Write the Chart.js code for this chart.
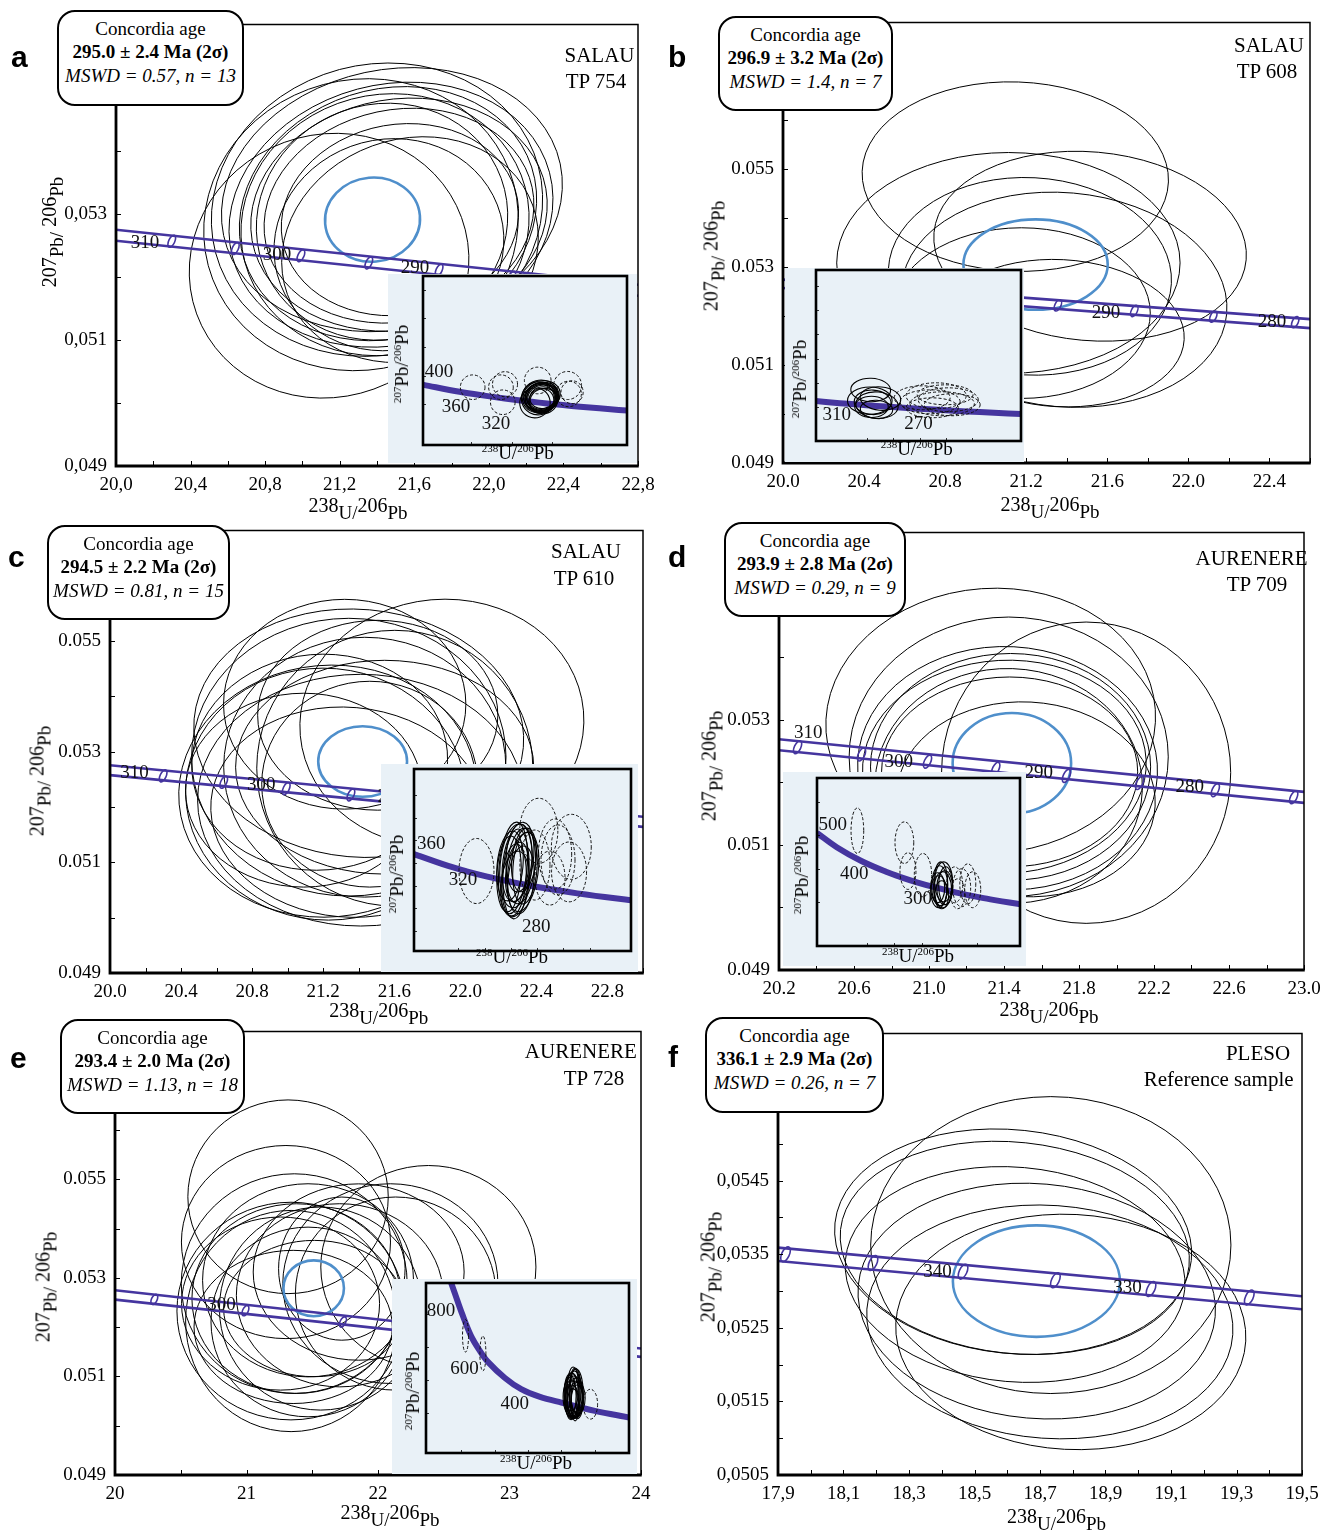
<!DOCTYPE html>
<html><head><meta charset="utf-8">
<script src="https://cdn.jsdelivr.net/npm/chart.js@4.4.1/dist/chart.umd.min.js"></script>
<style>
html,body{margin:0;padding:0;background:#fff;}
#root{position:relative;width:1336px;height:1530px;overflow:hidden;background:#fff;font-family:'Liberation Serif','Times New Roman',serif;color:#000;}
canvas{position:absolute;}
.box{position:absolute;box-sizing:border-box;border:2px solid #000;border-radius:18px;background:#fff;text-align:center;font-size:19px;line-height:23.3px;padding-top:5px;z-index:10;white-space:nowrap;}
.box .b{font-weight:bold}
.box .i{font-style:italic}
.lt{position:absolute;font-family:'Liberation Sans',Arial,sans-serif;font-weight:bold;font-size:30px;line-height:30px;z-index:10}
.nm{position:absolute;font-size:21px;line-height:21px;transform:translateX(-50%);white-space:nowrap;z-index:10}
.at{position:absolute;white-space:nowrap;font-size:20px;line-height:20px;z-index:10}
.at .lo{position:relative;top:7px;font-size:19px}
.it{position:absolute;white-space:nowrap;font-size:19px;line-height:19px;z-index:12}
.it .sp{position:relative;top:-7px;font-size:11px}
</style></head>
<body><div id="root"></div>
<script>
// ================= DATA =================
// ---- Panel a (SALAU TP 754) ----
const A_boxText = ['Concordia age', '295.0 ± 2.4 Ma (2σ)', 'MSWD = 0.57, n = 13'];
const A_names = ['SALAU', 'TP 754'];
const A_xTickLabels = ['20,0','20,4','20,8','21,2','21,6','22,0','22,4','22,8'];
const A_yTickLabels = ['0,049','0,051','0,053'];
const A_ellX = [21.143, 21.314, 21.400, 21.480, 21.475, 21.459, 21.443, 21.518, 21.427, 21.518, 21.464, 21.523, 21.577];
const A_ellY = [0.052175, 0.052825, 0.053063, 0.053222, 0.052984, 0.053000, 0.052825, 0.052984, 0.052873, 0.052968, 0.052508, 0.052905, 0.052429];
const A_ellRX = [0.756, 0.848, 0.896, 0.923, 0.880, 0.810, 0.778, 0.800, 0.680, 0.730, 0.620, 0.640, 0.700];
const A_ellRY = [0.00208, 0.00230, 0.00230, 0.00206, 0.00206, 0.00197, 0.00206, 0.00183, 0.00186, 0.00168, 0.00167, 0.00151, 0.00175];
const A_ellRot = [-20, -15, -15, -12, -15, -18, -15, -10, -20, -12, -15, -10, -20];
const A_blue = [21.376, 0.052905, 0.255, 0.000667];
const A_concX = [20.0, 22.8];
const A_concUpper = [0.052746, 0.051873];
const A_concLower = [0.052571, 0.051698];
const A_markX = [20.299, 20.640, 20.992, 21.356, 21.733, 22.123, 22.527];
const A_markY = [0.052563, 0.052448, 0.052334, 0.052219, 0.052105, 0.051991, 0.051877];
const A_labText = ['310', '300', '290'];
const A_labX = [20.156, 20.864, 21.604];
const A_labY = [0.052532, 0.052342, 0.052136];
// inset a
const IA_curveX = [15.621, 17.411, 18.465, 19.649, 20.992, 21.733, 22.527, 23.379, 25.289, 26.363];
const IA_curveY = [0.054701, 0.053736, 0.053263, 0.052796, 0.052334, 0.052105, 0.051877, 0.051652, 0.051203, 0.050983];
const IA_dashX = [18.06, 19.46, 19.66, 19.55, 21.28, 22.76, 22.81, 22.98];
const IA_dashY = [0.05437, 0.05437, 0.05479, 0.05227, 0.05531, 0.05461, 0.05343, 0.05367];
const IA_dashRX = [0.61, 0.61, 0.62, 0.61, 0.66, 0.69, 0.63, 0.55];
const IA_dashRY = [0.00172, 0.00172, 0.00175, 0.00172, 0.00186, 0.00196, 0.00178, 0.0016];
const IA_labText = ['400', '360', '320'];
const IA_labX = [16.39, 17.23, 19.21];
const IA_labY = [0.05647, 0.05157, 0.04920];

// ---- Panel b (SALAU TP 608) ----
const B_boxText = ['Concordia age', '296.9 ± 3.2 Ma (2σ)', 'MSWD = 1.4, n = 7'];
const B_names = ['SALAU', 'TP 608'];
const B_xTickLabels = ['20.0','20.4','20.8','21.2','21.6','22.0','22.4'];
const B_yTickLabels = ['0.049','0.051','0.053','0.055'];
const B_ellX = [21.146, 21.112, 21.515, 21.218, 21.387, 21.176, 21.366];
const B_ellY = [0.054850, 0.053087, 0.053428, 0.052813, 0.052335, 0.052062, 0.051652];
const B_ellRX = [0.756, 0.847, 0.773, 0.699, 0.805, 0.636, 0.614];
const B_ellRY = [0.001934, 0.002255, 0.001927, 0.002016, 0.002187, 0.001743, 0.001503];
const B_ellRot = [2, 0, 5, 3, 5, 0, 3];
const B_blue = [21.246, 0.053053, 0.356, 0.000923];
const B_concX = [20.0, 22.6];
const B_concUpper = [0.052745, 0.051939];
const B_concLower = [0.052574, 0.051754];
const B_markX = [20.299, 20.640, 20.992, 21.356, 21.733, 22.123, 22.527];
const B_markY = [0.052563, 0.052448, 0.052334, 0.052219, 0.052105, 0.051991, 0.051877];
const B_labText = ['290', '280'];
const B_labX = [21.593, 22.412];
const B_labY = [0.052055, 0.051884];
// inset b
const IB_curveX = [19.039, 19.649, 20.299, 20.992, 21.733, 22.527, 23.379, 24.297, 25.289, 26.363, 27.531];
const IB_curveY = [0.053028, 0.052796, 0.052563, 0.052334, 0.052105, 0.051877, 0.051652, 0.051426, 0.051203, 0.050983, 0.050761];
const IB_dashX = [23.10, 23.40, 23.63, 23.86, 24.09, 24.24, 23.48, 23.97];
const IB_dashY = [0.05356, 0.05290, 0.05389, 0.05257, 0.05323, 0.05241, 0.05191, 0.05405];
const IB_dashRX = [1.06, 1.14, 1.14, 1.22, 1.14, 1.06, 0.99, 1.06];
const IB_dashRY = [0.00197, 0.00197, 0.00214, 0.00197, 0.00197, 0.00181, 0.00164, 0.00164];
const IB_labText = ['310', '270'];
const IB_labX = [19.857, 22.96];
const IB_labY = [0.050646, 0.049281];

// ---- Panel c (SALAU TP 610) ----
const C_boxText = ['Concordia age', '294.5 ± 2.2 Ma (2σ)', 'MSWD = 0.81, n = 15'];
const C_names = ['SALAU', 'TP 610'];
const C_xTickLabels = ['20.0','20.4','20.8','21.2','21.6','22.0','22.4','22.8'];
const C_yTickLabels = ['0.049','0.051','0.053','0.055'];
const C_ellX = [21.321, 21.868, 21.400, 21.344, 21.603, 21.225, 21.214, 21.411, 21.434, 21.090, 21.338, 21.507, 21.180, 21.546, 21.462];
const C_ellY = [0.053858, 0.053515, 0.053334, 0.052901, 0.052702, 0.052287, 0.052233, 0.052124, 0.052720, 0.052305, 0.051907, 0.053659, 0.052810, 0.052720, 0.052413];
const C_ellRX = [0.682, 0.800, 0.930, 0.885, 0.777, 0.839, 0.789, 0.918, 0.794, 0.665, 0.772, 0.676, 0.721, 0.839, 0.608];
const C_ellRY = [0.001896, 0.002239, 0.002239, 0.002510, 0.002492, 0.002275, 0.002275, 0.002275, 0.002348, 0.001752, 0.001896, 0.001716, 0.001950, 0.001932, 0.001860];
const C_ellRot = [0, -5, 5, 0, 0, -5, 5, 0, 0, 0, 5, 0, -5, 0, 0];
const C_blue = [21.422, 0.052823, 0.250, 0.000638];
const C_concX = [20.0, 23.0];
const C_concUpper = [0.052756, 0.051823];
const C_concLower = [0.052576, 0.051642];
const C_markX = [20.299, 20.640, 20.992, 21.356, 21.733, 22.123, 22.527, 22.945];
const C_markY = [0.052563, 0.052448, 0.052334, 0.052219, 0.052105, 0.051991, 0.051877, 0.051764];
const C_labText = ['310', '300', '290'];
const C_labX = [20.138, 20.851, 21.586];
const C_labY = [0.052606, 0.052395, 0.052178];
// inset c
const IC_curveX = [15.228, 15.621, 17.411, 18.465, 19.649, 20.992, 21.733, 22.527, 23.379, 24.297, 25.289, 26.363, 27.531, 28.154];
const IC_curveY = [0.054946, 0.054701, 0.053736, 0.053263, 0.052796, 0.052334, 0.052105, 0.051877, 0.051652, 0.051426, 0.051203, 0.050983, 0.050761, 0.050651];
const IC_solidX = [21.117, 21.403, 21.289, 21.574, 21.174, 21.689, 20.946, 21.460, 21.231, 21.803, 21.346, 21.574, 20.889, 21.746, 21.289];
const IC_solidY = [0.05356, 0.05409, 0.05303, 0.05374, 0.05250, 0.05320, 0.05374, 0.05444, 0.05214, 0.05356, 0.05320, 0.05250, 0.05303, 0.05427, 0.05374];
const IC_solidRX = [0.80, 0.86, 0.74, 0.80, 0.69, 0.86, 0.74, 0.74, 0.80, 0.69, 0.63, 0.74, 0.69, 0.69, 0.91];
const IC_solidRY = [0.00407, 0.00354, 0.00398, 0.00336, 0.00319, 0.00354, 0.00310, 0.00301, 0.00292, 0.00319, 0.00265, 0.00301, 0.00336, 0.00283, 0.00372];
const IC_solidRot = [5, 8, 3, 6, 4, 8, 5, 3, 6, 4, 7, 5, 3, 6, 5];
const IC_dashX = [19.03, 22.59, 24.45, 23.69, 24.32, 23.23, 22.37, 23.52];
const IC_dashY = [0.05329, 0.05685, 0.05543, 0.05427, 0.05321, 0.05267, 0.05382, 0.05480];
const IC_dashRX = [1.00, 1.09, 1.14, 0.97, 1.00, 0.86, 0.86, 0.95];
const IC_dashRY = [0.00288, 0.00288, 0.00288, 0.0031, 0.00265, 0.00239, 0.0031, 0.0031];
const IC_labText = ['360', '320', '280'];
const IC_labX = [16.45, 18.26, 22.45];
const IC_labY = [0.05571, 0.05247, 0.04834];

// ---- Panel d (AURENERE TP 709) ----
const D_boxText = ['Concordia age', '293.9 ± 2.8 Ma (2σ)', 'MSWD = 0.29, n = 9'];
const D_names = ['AURENERE', 'TP 709'];
const D_xTickLabels = ['20.2','20.6','21.0','21.4','21.8','22.2','22.6','23.0'];
const D_yTickLabels = ['0.049','0.051','0.053'];
const D_ellX = [21.838, 21.329, 21.425, 21.419, 21.435, 21.402, 21.425, 21.430, 21.517];
const D_ellY = [0.052156, 0.052987, 0.052409, 0.052228, 0.052249, 0.052249, 0.051944, 0.052169, 0.051730];
const D_ellRX = [0.771, 0.880, 0.851, 0.800, 0.747, 0.757, 0.713, 0.683, 0.690];
const D_ellRY = [0.002410, 0.002118, 0.002237, 0.001945, 0.001814, 0.001705, 0.001878, 0.001518, 0.001558];
const D_ellRot = [0, -4, 0, 3, 0, -3, 2, 0, 3];
const D_blue = [21.442, 0.052308, 0.316, 0.000804];
const D_concX = [20.2, 23.0];
const D_concUpper = [0.052692, 0.051850];
const D_concLower = [0.052516, 0.051674];
const D_markX = [20.299, 20.640, 20.992, 21.356, 21.733, 22.123, 22.527, 22.945];
const D_markY = [0.052563, 0.052448, 0.052334, 0.052219, 0.052105, 0.051991, 0.051877, 0.051764];
const D_labText = ['310', '300', '290', '280'];
const D_labX = [20.356, 20.838, 21.585, 22.390];
const D_labY = [0.052788, 0.052329, 0.052148, 0.051929];
// inset d
const ID_curveX = [12.399, 13.831, 15.621, 17.411, 18.465, 19.649, 20.992, 22.527, 24.297, 25.289, 26.363, 27.531];
const ID_curveY = [0.057219, 0.055941, 0.054701, 0.053736, 0.053263, 0.052796, 0.052334, 0.051877, 0.051426, 0.051203, 0.050983, 0.050761];
const ID_solidX = [21.30, 21.52, 21.38, 21.67, 21.23, 21.59, 21.45, 21.74, 21.16];
const ID_solidY = [0.05249, 0.05213, 0.05266, 0.05231, 0.05195, 0.05284, 0.05168, 0.05249, 0.05231];
const ID_solidRX = [0.58, 0.65, 0.51, 0.58, 0.58, 0.65, 0.51, 0.51, 0.51];
const ID_solidRY = [0.00179, 0.00161, 0.00197, 0.00152, 0.00143, 0.00179, 0.00125, 0.0017, 0.00134];
const ID_dashX = [15.33, 18.74, 19.00, 20.09, 22.39, 22.90, 23.34, 23.70, 22.61];
const ID_dashY = [0.05742, 0.05635, 0.05380, 0.05344, 0.05257, 0.05231, 0.05266, 0.05213, 0.05177];
const ID_dashRX = [0.46, 0.68, 0.58, 0.63, 0.58, 0.65, 0.58, 0.58, 0.51];
const ID_dashRY = [0.00204, 0.00186, 0.00164, 0.00194, 0.00161, 0.0017, 0.00179, 0.00161, 0.00134];
const ID_labText = ['500', '400', '300'];
const ID_labX = [13.55, 15.11, 19.71];
const ID_labY = [0.05797, 0.05350, 0.05126];

// ---- Panel e (AURENERE TP 728) ----
const E_boxText = ['Concordia age', '293.4 ± 2.0 Ma (2σ)', 'MSWD = 1.13, n = 18'];
const E_names = ['AURENERE', 'TP 728'];
const E_xTickLabels = ['20','21','22','23','24'];
const E_yTickLabels = ['0.049','0.051','0.053','0.055'];
const E_ellX = [21.316, 21.300, 22.383, 22.094, 22.134, 21.338, 21.363, 21.379, 21.339, 21.468, 21.564, 21.259, 21.709, 21.516, 21.355, 21.725, 21.853, 21.468];
const E_ellY = [0.054645, 0.053726, 0.053219, 0.052883, 0.052681, 0.052326, 0.052883, 0.052579, 0.052124, 0.052105, 0.052377, 0.052478, 0.052646, 0.052377, 0.052004, 0.053187, 0.053118, 0.052950];
const E_ellRX = [0.762, 0.795, 0.818, 0.818, 0.762, 0.867, 0.859, 0.794, 0.802, 0.738, 0.770, 0.753, 0.786, 0.690, 0.754, 0.481, 0.802, 0.802];
const E_ellRY = [0.001965, 0.001959, 0.002060, 0.002026, 0.001959, 0.002208, 0.002228, 0.001924, 0.002244, 0.001924, 0.002060, 0.001756, 0.001858, 0.001383, 0.001554, 0.001452, 0.001789, 0.001959];
const E_ellRot = [0, 0, 0, 0, 0, 0, 0, 0, 0, 0, 0, 0, 0, 0, 0, 0, 0, 0];
const E_blue = [21.511, 0.052788, 0.230, 0.000567];
const E_concX = [20.0, 24.0];
const E_concUpper = [0.052747, 0.051566];
const E_concLower = [0.052559, 0.051396];
const E_markX = [20.299, 20.992, 21.733, 22.527, 23.379];
const E_markY = [0.052563, 0.052334, 0.052105, 0.051877, 0.051652];
const E_labText = ['300'];
const E_labX = [20.810];
const E_labY = [0.052444];
// inset e
const IE_curveX = [6.28, 7.25, 8.09, 9.20, 10.25, 11.21, 13.25, 15.20, 17.45, 20.01, 24.02, 28.10];
const IE_curveY = [0.06930, 0.06653, 0.06412, 0.06134, 0.05955, 0.05822, 0.05627, 0.05491, 0.05398, 0.05329, 0.05229, 0.05149];
const IE_solidX = [21.29, 21.65, 21.41, 21.77, 21.17, 21.53, 21.89, 21.29, 21.65, 21.05, 22.01, 21.41, 21.77, 21.53, 21.17, 21.89, 21.41, 21.65];
const IE_solidY = [0.05422, 0.05386, 0.05459, 0.05362, 0.05362, 0.05434, 0.05410, 0.05338, 0.05483, 0.05410, 0.05386, 0.05314, 0.05446, 0.05374, 0.05459, 0.05338, 0.05398, 0.05422];
const IE_solidRX = [0.84, 0.96, 0.72, 0.84, 0.72, 0.96, 0.72, 0.84, 0.72, 0.72, 0.84, 0.72, 0.84, 1.08, 0.84, 0.72, 1.20, 0.60];
const IE_solidRY = [0.00265, 0.00241, 0.00302, 0.00217, 0.00241, 0.00277, 0.00229, 0.00205, 0.00265, 0.00253, 0.00193, 0.00181, 0.00290, 0.00217, 0.00229, 0.00205, 0.00253, 0.00314];
const IE_dashX = [8.53, 10.61, 23.48];
const IE_dashY = [0.06138, 0.05923, 0.05310];
const IE_dashRX = [0.36, 0.36, 0.86];
const IE_dashRY = [0.00197, 0.00211, 0.00181];
const IE_labText = ['800', '600', '400'];
const IE_labX = [5.60, 8.41, 14.41];
const IE_labY = [0.06436, 0.05732, 0.05310];

// ---- Panel f (PLESO reference) ----
const F_boxText = ['Concordia age', '336.1 ± 2.9 Ma (2σ)', 'MSWD = 0.26, n = 7'];
const F_names = ['PLESO', 'Reference sample'];
const F_xTickLabels = ['17,9','18,1','18,3','18,5','18,7','18,9','19,1','19,3','19,5'];
const F_yTickLabels = ['0,0505','0,0515','0,0525','0,0535','0,0545'];
const F_ellX = [18.733, 18.618, 18.623, 18.624, 18.690, 18.730, 18.794];
const F_ellY = [0.053624, 0.053670, 0.053586, 0.053224, 0.052863, 0.052580, 0.052444];
const F_ellRX = [0.550, 0.547, 0.535, 0.520, 0.547, 0.560, 0.535];
const F_ellRY = [0.002017, 0.001519, 0.001435, 0.001458, 0.001594, 0.001583, 0.001597];
const F_ellRot = [0, 6, 6, 5, 5, 4, 3];
const F_blue = [18.689, 0.053134, 0.255, 0.000757];
const F_concX = [17.9, 19.5];
const F_concUpper = [0.053589, 0.052928];
const F_concLower = [0.053407, 0.052752];
const F_markX = [17.923, 18.190, 18.465, 18.747, 19.039, 19.339];
const F_markY = [0.053499, 0.053381, 0.053263, 0.053146, 0.053028, 0.052912];
const F_labText = ['340', '330'];
const F_labX = [18.387, 18.967];
const F_labY = [0.053258, 0.053041];

// ================= STYLE / LAYOUT =================
const SERIF = "'Liberation Serif', 'Times New Roman', serif";
const PURPLE = '#45359f';
const BLUE = '#4f8fcb';
const INSET_BG = '#e9f1f7';
const root = document.getElementById('root');

const panels = [
  { id:'a', frame:{l:116,t:24,r:638,b:466}, xMin:20, xMax:22.8, xStep:0.2, xMajor:0.4, xLabels:A_xTickLabels,
    yMin:0.049, yMax:0.056, yStep:0.001, yMajor:0.002, yLabels:A_yTickLabels,
    ell:{x:A_ellX,y:A_ellY,rx:A_ellRX,ry:A_ellRY,rot:A_ellRot}, blue:A_blue, blueRot:-5,
    conc:{x:A_concX,u:A_concUpper,l:A_concLower}, mark:{x:A_markX,y:A_markY}, markRx:3, markRy:6.5,
    lab:{t:A_labText,x:A_labX,y:A_labY},
    box:{l:57,t:10,w:187,h:96,lines:A_boxText}, letter:{x:11,base:66.7},
    names:{t:A_names, pos:[[599.5,62],[596,88]]}, xTitle:[358,505], yTitle:[49,232],
    inset:{bg:[388,274,637,463], box:[423,276,627,445], xMin:15.6, xMax:25.7, yMin:0.0463, yMax:0.0699, xStep:2, yStep:0.004,
      curve:{x:IA_curveX,y:IA_curveY}, solid:{x:A_ellX,y:A_ellY,rx:A_ellRX,ry:A_ellRY,rot:A_ellRot},
      dash:{x:IA_dashX,y:IA_dashY,rx:IA_dashRX,ry:IA_dashRY}, lab:{t:IA_labText,x:IA_labX,y:IA_labY}, band:false,
      yTitle:[402.7,363.7], xTitle:[517.7,453.7]} },
  { id:'b', frame:{l:783,t:22,r:1310,b:463}, xMin:20, xMax:22.6, xStep:0.2, xMajor:0.4, xLabels:B_xTickLabels,
    yMin:0.049, yMax:0.058, yStep:0.001, yMajor:0.002, yLabels:B_yTickLabels,
    ell:{x:B_ellX,y:B_ellY,rx:B_ellRX,ry:B_ellRY,rot:B_ellRot}, blue:B_blue, blueRot:0,
    conc:{x:B_concX,u:B_concUpper,l:B_concLower}, mark:{x:B_markX,y:B_markY}, markRx:3, markRy:6,
    lab:{t:B_labText,x:B_labX,y:B_labY},
    box:{l:718,t:16,w:175,h:95,lines:B_boxText}, letter:{x:668,base:66.7},
    names:{t:B_names, pos:[[1269,51.7],[1267,77.7]]}, xTitle:[1050,504], yTitle:[711,256],
    inset:{bg:[785,268,1024,462], box:[816,270,1021,441], xMin:19.07, xMax:26.85, yMin:0.04644, yMax:0.07461, xStep:1, yStep:0.004,
      curve:{x:IB_curveX,y:IB_curveY}, solid:{x:B_ellX,y:B_ellY,rx:B_ellRX,ry:B_ellRY,rot:B_ellRot},
      dash:{x:IB_dashX,y:IB_dashY,rx:IB_dashRX,ry:IB_dashRY}, lab:{t:IB_labText,x:IB_labX,y:IB_labY}, band:false,
      yTitle:[801,379], xTitle:[916.7,450]} },
  { id:'c', frame:{l:110,t:530,r:643,b:973}, xMin:20, xMax:23, xStep:0.2, xMajor:0.4, xLabels:C_xTickLabels,
    yMin:0.049, yMax:0.057, yStep:0.001, yMajor:0.002, yLabels:C_yTickLabels,
    ell:{x:C_ellX,y:C_ellY,rx:C_ellRX,ry:C_ellRY,rot:C_ellRot}, blue:C_blue, blueRot:0,
    conc:{x:C_concX,u:C_concUpper,l:C_concLower}, mark:{x:C_markX,y:C_markY}, markRx:3, markRy:6.5,
    lab:{t:C_labText,x:C_labX,y:C_labY},
    box:{l:47,t:525,w:183,h:95,lines:C_boxText}, letter:{x:8,base:566.7},
    names:{t:C_names, pos:[[586,558],[584,585]]}, xTitle:[378.7,1010], yTitle:[37,781],
    inset:{bg:[381,764,638,972], box:[414,769,631,951], xMin:15.46, xMax:27.86, yMin:0.04621, yMax:0.06232, xStep:1.5, yStep:0.002,
      curve:{x:IC_curveX,y:IC_curveY}, solid:{x:IC_solidX,y:IC_solidY,rx:IC_solidRX,ry:IC_solidRY,rot:IC_solidRot},
      dash:{x:IC_dashX,y:IC_dashY,rx:IC_dashRX,ry:IC_dashRY}, lab:{t:IC_labText,x:IC_labX,y:IC_labY}, band:true,
      yTitle:[398,874], xTitle:[512,958]} },
  { id:'d', frame:{l:779,t:532,r:1304,b:970}, xMin:20.2, xMax:23.0, xStep:0.2, xMajor:0.4, xLabels:D_xTickLabels,
    yMin:0.049, yMax:0.056, yStep:0.001, yMajor:0.002, yLabels:D_yTickLabels,
    ell:{x:D_ellX,y:D_ellY,rx:D_ellRX,ry:D_ellRY,rot:D_ellRot}, blue:D_blue, blueRot:0,
    conc:{x:D_concX,u:D_concUpper,l:D_concLower}, mark:{x:D_markX,y:D_markY}, markRx:3.2, markRy:7,
    lab:{t:D_labText,x:D_labX,y:D_labY},
    box:{l:724,t:522,w:182,h:95,lines:D_boxText}, letter:{x:668,base:566.7},
    names:{t:D_names, pos:[[1251.6,565],[1257,591]]}, xTitle:[1049,1009], yTitle:[708.6,766],
    inset:{bg:[783,772,1026,966], box:[817,778,1020,946], xMin:12.4, xMax:27.13, yMin:0.04709, yMax:0.06214, xStep:2, yStep:0.003,
      curve:{x:ID_curveX,y:ID_curveY}, solid:{x:ID_solidX,y:ID_solidY,rx:ID_solidRX,ry:ID_solidRY},
      dash:{x:ID_dashX,y:ID_dashY,rx:ID_dashRX,ry:ID_dashRY}, lab:{t:ID_labText,x:ID_labX,y:ID_labY}, band:false,
      yTitle:[803,875], xTitle:[918,957]} },
  { id:'e', frame:{l:115,t:1031,r:641,b:1475}, xMin:20, xMax:24, xStep:0.5, xMajor:1, xLabels:E_xTickLabels,
    yMin:0.049, yMax:0.058, yStep:0.001, yMajor:0.002, yLabels:E_yTickLabels,
    ell:{x:E_ellX,y:E_ellY,rx:E_ellRX,ry:E_ellRY,rot:E_ellRot}, blue:E_blue, blueRot:0,
    conc:{x:E_concX,u:E_concUpper,l:E_concLower}, mark:{x:E_markX,y:E_markY}, markRx:2.8, markRy:5.5,
    lab:{t:E_labText,x:E_labX,y:E_labY},
    box:{l:60,t:1019,w:185,h:95,lines:E_boxText}, letter:{x:10,base:1068.3},
    names:{t:E_names, pos:[[580.8,1058],[594,1085]]}, xTitle:[390,1512], yTitle:[43.4,1286.7],
    inset:{bg:[392,1279,637,1474], box:[426,1283,629,1453], xMin:3.8, xMax:28.1, yMin:0.04719, yMax:0.06777, xStep:4, yStep:0.004,
      curve:{x:IE_curveX,y:IE_curveY}, solid:{x:IE_solidX,y:IE_solidY,rx:IE_solidRX,ry:IE_solidRY},
      dash:{x:IE_dashX,y:IE_dashY,rx:IE_dashRX,ry:IE_dashRY}, lab:{t:IE_labText,x:IE_labX,y:IE_labY}, band:false,
      yTitle:[413.5,1391], xTitle:[536,1463.5]} },
  { id:'f', frame:{l:778,t:1033,r:1302,b:1475}, xMin:17.9, xMax:19.5, xStep:0.1, xMajor:0.2, xLabels:F_xTickLabels,
    yMin:0.0505, yMax:0.0565, yStep:0.0005, yMajor:0.001, yLabels:F_yTickLabels,
    ell:{x:F_ellX,y:F_ellY,rx:F_ellRX,ry:F_ellRY,rot:F_ellRot}, blue:F_blue, blueRot:0,
    conc:{x:F_concX,u:F_concUpper,l:F_concLower}, mark:{x:F_markX,y:F_markY}, markRx:3.8, markRy:8,
    lab:{t:F_labText,x:F_labX,y:F_labY},
    box:{l:705,t:1017,w:179,h:96,lines:F_boxText}, letter:{x:668,base:1066.7},
    names:{t:F_names, pos:[[1258,1060],[1218.7,1086]]}, xTitle:[1056.5,1516], yTitle:[707.5,1266.7],
    inset:null }
];

// ================= DRAW HELPERS =================
function ellipseStroke(ctx, xs, ys, cx, cy, rx, ry, rotDeg) {
  const px = xs.getPixelForValue(cx), py = ys.getPixelForValue(cy);
  const rxp = Math.abs(xs.getPixelForValue(cx + rx) - px);
  const ryp = Math.abs(ys.getPixelForValue(cy + ry) - py);
  ctx.beginPath();
  ctx.ellipse(px, py, rxp, ryp, (rotDeg || 0) * Math.PI / 180, 0, Math.PI * 2);
  ctx.stroke();
}
function drawSet(ctx, xs, ys, s) {
  for (let i = 0; i < s.x.length; i++) ellipseStroke(ctx, xs, ys, s.x[i], s.y[i], s.rx[i], s.ry[i], s.rot ? s.rot[i] : 0);
}
function clipArea(ctx, a) { ctx.beginPath(); ctx.rect(a.left, a.top, a.right - a.left, a.bottom - a.top); ctx.clip(); }
function drawTickMarks(chart, len, width, skipEdges) {
  const ctx = chart.ctx, a = chart.chartArea, xs = chart.scales.x, ys = chart.scales.y;
  ctx.save(); ctx.strokeStyle = '#000'; ctx.lineWidth = width; ctx.beginPath();
  xs.ticks.forEach(t => { const p = Math.round(xs.getPixelForValue(t.value)) + 0.5;
    if (skipEdges && (p < a.left + 3 || p > a.right - 3)) return;
    ctx.moveTo(p, a.bottom); ctx.lineTo(p, a.bottom - len); });
  ys.ticks.forEach(t => { const p = Math.round(ys.getPixelForValue(t.value)) + 0.5;
    if (skipEdges && (p < a.top + 3 || p > a.bottom - 3)) return;
    ctx.moveTo(a.left, p); ctx.lineTo(a.left + len, p); });
  ctx.stroke(); ctx.restore();
}
function labelCb(min, major, labels) {
  return function (v) { const k = (v - min) / major; const r = Math.round(k);
    return (Math.abs(k - r) < 1e-6 && labels[r] !== undefined) ? labels[r] : ''; };
}
function pts(xs, ys) { return xs.map((v, i) => ({ x: v, y: ys[i] })); }

// ================= MAIN PANELS =================
function mainPlugin(p) {
  return {
    id: 'main_' + p.id,
    beforeDatasetsDraw(chart) {
      const { ctx, chartArea: a, scales: { x, y } } = chart;
      ctx.save(); clipArea(ctx, a);
      ctx.strokeStyle = '#000'; ctx.lineWidth = 1;
      drawSet(ctx, x, y, p.ell);
      ctx.strokeStyle = BLUE; ctx.lineWidth = 2.6;
      ellipseStroke(ctx, x, y, p.blue[0], p.blue[1], p.blue[2], p.blue[3], p.blueRot);
      ctx.restore();
    },
    afterDatasetsDraw(chart) {
      const { ctx, chartArea: a, scales: { x, y } } = chart;
      ctx.save(); clipArea(ctx, a);
      ctx.strokeStyle = PURPLE; ctx.lineWidth = 1.6;
      p.mark.x.forEach((mx, i) => {
        const px = x.getPixelForValue(mx), py = y.getPixelForValue(p.mark.y[i]);
        ctx.beginPath(); ctx.ellipse(px, py, p.markRx, p.markRy, 25 * Math.PI / 180, 0, Math.PI * 2); ctx.stroke();
      });
      ctx.fillStyle = '#111'; ctx.font = '19px ' + SERIF; ctx.textAlign = 'center'; ctx.textBaseline = 'middle';
      p.lab.t.forEach((t, i) => ctx.fillText(t, x.getPixelForValue(p.lab.x[i]), y.getPixelForValue(p.lab.y[i])));
      ctx.restore();
      ctx.save(); ctx.strokeStyle = '#000';
      ctx.lineWidth = 1.5; ctx.beginPath(); ctx.moveTo(a.left, a.top); ctx.lineTo(a.right, a.top); ctx.lineTo(a.right, a.bottom); ctx.stroke();
      ctx.lineWidth = 2.8; ctx.beginPath(); ctx.moveTo(a.left, a.top - 0.75); ctx.lineTo(a.left, a.bottom); ctx.lineTo(a.right + 0.75, a.bottom); ctx.stroke();
      ctx.restore();
      drawTickMarks(chart, 5, 1, false);
    }
  };
}

function makeMain(p) {
  const PL = 100, PT = 20, PR = 25, PB = 45;
  const f = p.frame, W = f.r - f.l, H = f.b - f.t;
  const cv = document.createElement('canvas');
  cv.width = W + PL + PR; cv.height = H + PT + PB;
  cv.style.left = (f.l - PL) + 'px'; cv.style.top = (f.t - PT) + 'px';
  cv.style.width = cv.width + 'px'; cv.style.height = cv.height + 'px'; cv.style.zIndex = 1;
  root.appendChild(cv);
  const tickFont = { family: SERIF, size: 19 };
  new Chart(cv.getContext('2d'), {
    type: 'scatter',
    data: { datasets: [
      { data: pts(p.conc.x, p.conc.u), showLine: true, borderColor: PURPLE, borderWidth: 2.6, pointRadius: 0, clip: 0 },
      { data: pts(p.conc.x, p.conc.l), showLine: true, borderColor: PURPLE, borderWidth: 2.6, pointRadius: 0, clip: 0 }
    ] },
    options: {
      responsive: false, animation: false, devicePixelRatio: 1, events: [],
      layout: { padding: { top: PT, right: PR, left: 0, bottom: 0 } },
      plugins: { legend: { display: false }, tooltip: { enabled: false } },
      scales: {
        x: { type: 'linear', position: 'bottom', min: p.xMin, max: p.xMax,
             afterFit(s) { s.height = PB; },
             grid: { display: false, drawTicks: false }, border: { display: false },
             ticks: { stepSize: p.xStep, autoSkip: false, maxRotation: 0, minRotation: 0, padding: 8, color: '#000', font: tickFont,
                      callback: labelCb(p.xMin, p.xMajor, p.xLabels) } },
        y: { type: 'linear', position: 'left', min: p.yMin, max: p.yMax,
             afterFit(s) { s.width = PL; },
             grid: { display: false, drawTicks: false }, border: { display: false },
             ticks: { stepSize: p.yStep, autoSkip: false, padding: 9, color: '#000', font: tickFont,
                      callback: labelCb(p.yMin, p.yMajor, p.yLabels) } }
      }
    },
    plugins: [mainPlugin(p)]
  });
}

// ================= INSETS =================
function insetPlugin(q) {
  return {
    id: 'inset',
    beforeDraw(chart) { const c = chart.ctx; c.save(); c.fillStyle = INSET_BG; c.fillRect(0, 0, chart.width, chart.height); c.restore(); },
    afterDatasetsDraw(chart) {
      const { ctx, chartArea: a, scales: { x, y } } = chart;
      ctx.save(); clipArea(ctx, a);
      ctx.strokeStyle = '#111'; ctx.lineWidth = 1; ctx.setLineDash([3, 2]);
      drawSet(ctx, x, y, q.dash);
      ctx.setLineDash([]); ctx.lineWidth = 1.1; ctx.strokeStyle = '#000';
      drawSet(ctx, x, y, q.solid);
      ctx.restore();
      ctx.save();
      ctx.fillStyle = '#111'; ctx.font = '19px ' + SERIF; ctx.textAlign = 'center'; ctx.textBaseline = 'middle';
      q.lab.t.forEach((t, i) => ctx.fillText(t, x.getPixelForValue(q.lab.x[i]), y.getPixelForValue(q.lab.y[i])));
      ctx.strokeStyle = '#000'; ctx.lineWidth = 2.6;
      ctx.strokeRect(a.left, a.top, a.right - a.left, a.bottom - a.top);
      ctx.restore();
      drawTickMarks(chart, 3, 0.8, true);
    }
  };
}
function makeInset(q) {
  const [bl, bt, br, bb] = q.bg, [il, itp, ir, ib] = q.box;
  const cv = document.createElement('canvas');
  cv.width = br - bl; cv.height = bb - bt;
  cv.style.left = bl + 'px'; cv.style.top = bt + 'px';
  cv.style.width = cv.width + 'px'; cv.style.height = cv.height + 'px'; cv.style.zIndex = 3;
  root.appendChild(cv);
  const dsets = [{ data: pts(q.curve.x, q.curve.y), showLine: true, borderColor: PURPLE, borderWidth: 6, pointRadius: 0,
                   tension: 0.35, clip: 0 }];
  if (q.band) dsets.push({ data: pts(q.curve.x, q.curve.y), showLine: true, borderColor: 'rgba(175,165,230,0.9)', borderWidth: 1.2,
                   pointRadius: 0, tension: 0.35, clip: 0 });
  new Chart(cv.getContext('2d'), {
    type: 'scatter',
    data: { datasets: dsets },
    options: {
      responsive: false, animation: false, devicePixelRatio: 1, events: [],
      layout: { padding: { top: itp - bt, right: br - ir, left: 0, bottom: 0 } },
      plugins: { legend: { display: false }, tooltip: { enabled: false } },
      scales: {
        x: { type: 'linear', min: q.xMin, max: q.xMax, afterFit(s) { s.height = bb - ib; },
             grid: { display: false, drawTicks: false }, border: { display: false }, ticks: { display: false, stepSize: q.xStep } },
        y: { type: 'linear', min: q.yMin, max: q.yMax, afterFit(s) { s.width = il - bl; },
             grid: { display: false, drawTicks: false }, border: { display: false }, ticks: { display: false, stepSize: q.yStep } }
      }
    },
    plugins: [insetPlugin(q)]
  });
}

// ================= HTML TEXT =================
function addDiv(cls, html, css) {
  const d = document.createElement('div'); d.className = cls; d.innerHTML = html;
  Object.assign(d.style, css); root.appendChild(d); return d;
}
function makeTexts(p) {
  const b = p.box;
  addDiv('box', `<div>${b.lines[0]}</div><div class="b">${b.lines[1]}</div><div class="i">${b.lines[2]}</div>`,
    { left: b.l + 'px', top: b.t + 'px', width: b.w + 'px', height: b.h + 'px' });
  addDiv('lt', p.id, { left: p.letter.x + 'px', top: (p.letter.base - 25) + 'px' });
  p.names.t.forEach((t, i) => addDiv('nm', t, { left: p.names.pos[i][0] + 'px', top: (p.names.pos[i][1] - 17) + 'px' }));
  addDiv('at', '238<span class="lo">U/</span>206<span class="lo">Pb</span>',
    { left: p.xTitle[0] + 'px', top: p.xTitle[1] + 'px', transform: 'translate(-50%,-50%)' });
  addDiv('at', '207<span class="lo">Pb/</span> 206<span class="lo">Pb</span>',
    { left: p.yTitle[0] + 'px', top: p.yTitle[1] + 'px', transform: 'translate(-50%,-50%) rotate(-90deg)' });
  if (p.inset) {
    const q = p.inset;
    addDiv('it', '<span class="sp">207</span>Pb/<span class="sp">206</span>Pb',
      { left: q.yTitle[0] + 'px', top: q.yTitle[1] + 'px', transform: 'translate(-50%,-50%) rotate(-90deg)' });
    addDiv('it', '<span class="sp">238</span>U/<span class="sp">206</span>Pb',
      { left: q.xTitle[0] + 'px', top: q.xTitle[1] + 'px', transform: 'translate(-50%,-50%)' });
  }
}

panels.forEach(p => { makeMain(p); if (p.inset) makeInset(p.inset); makeTexts(p); });
</script>
</body></html>
